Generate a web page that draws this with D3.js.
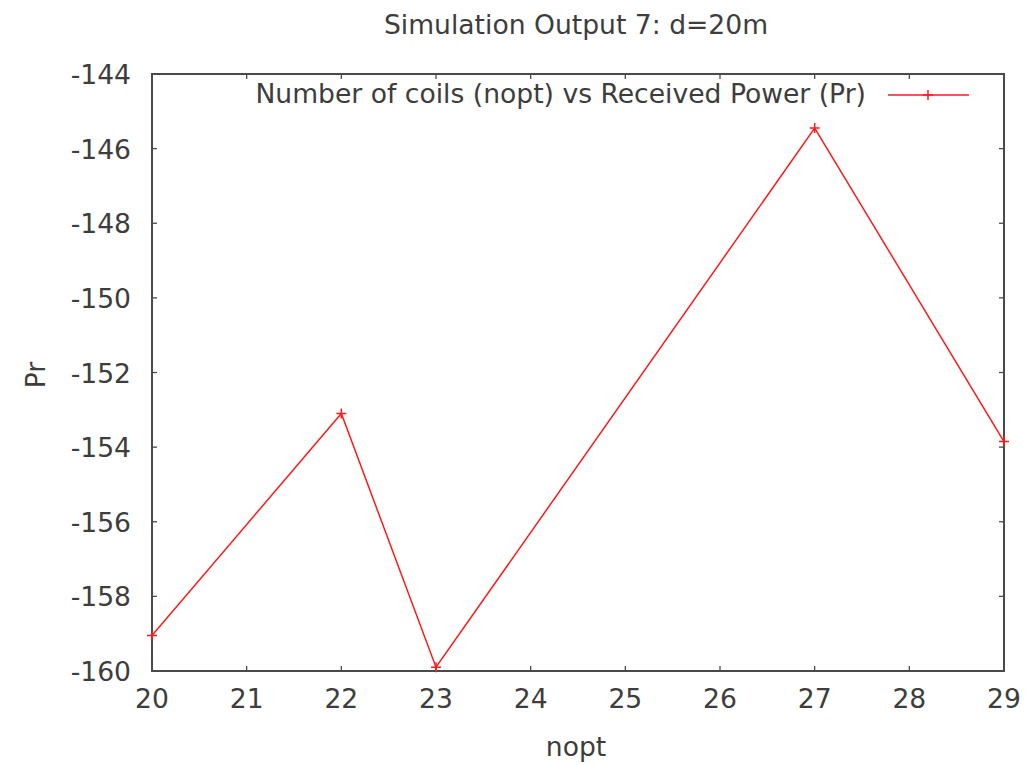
<!DOCTYPE html>
<html>
<head>
<meta charset="utf-8">
<script src="https://cdn.jsdelivr.net/npm/d3@7"></script>
<style>
  html, body { margin: 0; padding: 0; background: #fff; }
  svg text { font-family: "DejaVu Sans", sans-serif; fill: #3d3d3d; }
</style>
</head>
<body>
<svg id="chart" width="1027" height="765"></svg>
<script>
// Number of coils vs received power
const nopt = [20, 22, 23, 27, 29];
const pr = [-159.05, -153.1, -159.9, -145.45, -153.85];
const xTicks = [20, 21, 22, 23, 24, 25, 26, 27, 28, 29];
const yTicks = [-160, -158, -156, -154, -152, -150, -148, -146, -144];
const titleText = "Simulation Output 7: d=20m";
const legendText = "Number of coils (nopt) vs Received Power (Pr)";

const svg = d3.select("#chart");
const m = { left: 152, right: 1004, top: 74, bottom: 671 };
const axisColor = "#4a4a4a";
const fontSize = 26.6;

const x = d3.scaleLinear().domain([20, 29]).range([m.left, m.right]);
const y = d3.scaleLinear().domain([-160, -144]).range([m.bottom, m.top]);

// inward ticks on all four sides
const tickLen = 5;
const g = svg.append("g");
xTicks.forEach(t => {
  g.append("line").attr("x1", x(t)).attr("x2", x(t)).attr("y1", m.bottom).attr("y2", m.bottom - tickLen)
    .attr("stroke", axisColor).attr("stroke-width", 1.3);
  g.append("line").attr("x1", x(t)).attr("x2", x(t)).attr("y1", m.top).attr("y2", m.top + tickLen)
    .attr("stroke", axisColor).attr("stroke-width", 1.3);
  g.append("text").attr("x", x(t)).attr("y", m.bottom + 37).attr("text-anchor", "middle")
    .attr("font-size", fontSize).text(t);
});
yTicks.forEach(t => {
  g.append("line").attr("x1", m.left).attr("x2", m.left + tickLen).attr("y1", y(t)).attr("y2", y(t))
    .attr("stroke", axisColor).attr("stroke-width", 1.3);
  g.append("line").attr("x1", m.right).attr("x2", m.right - tickLen).attr("y1", y(t)).attr("y2", y(t))
    .attr("stroke", axisColor).attr("stroke-width", 1.3);
  g.append("text").attr("x", m.left - 21).attr("y", y(t) + 10).attr("text-anchor", "end")
    .attr("font-size", fontSize).text(t);
});

// frame
svg.append("rect").attr("x", m.left).attr("y", m.top)
  .attr("width", m.right - m.left).attr("height", m.bottom - m.top)
  .attr("fill", "none").attr("stroke", axisColor).attr("stroke-width", 2);

// data line
const line = d3.line().x((d, i) => x(nopt[i])).y(d => y(d));
svg.append("path").datum(pr).attr("d", line)
  .attr("fill", "none").attr("stroke", "#ff1a1a").attr("stroke-width", 1.5);

// plus markers
const ms = 5;
svg.append("g").selectAll("path").data(pr).join("path")
  .attr("d", (d, i) => {
    const cx = x(nopt[i]), cy = y(d);
    return `M${cx - ms},${cy}H${cx + ms}M${cx},${cy - ms}V${cy + ms}`;
  })
  .attr("stroke", "#ff1a1a").attr("stroke-width", 1.5);

// title and axis labels
svg.append("text").attr("x", 576).attr("y", 34).attr("text-anchor", "middle")
  .attr("font-size", fontSize).text(titleText);
svg.append("text").attr("x", 576).attr("y", 756).attr("text-anchor", "middle")
  .attr("font-size", fontSize).text("nopt");
svg.append("text").attr("transform", "translate(45,375) rotate(-90)").attr("text-anchor", "middle")
  .attr("font-size", fontSize).text("Pr");

// legend
const ly = 95;
svg.append("text").attr("x", 866).attr("y", ly + 8).attr("text-anchor", "end")
  .attr("font-size", fontSize).text(legendText);
svg.append("line").attr("x1", 888).attr("x2", 969).attr("y1", ly).attr("y2", ly)
  .attr("stroke", "#ff1a1a").attr("stroke-width", 1.5);
svg.append("path").attr("d", `M${928 - ms},${ly}H${928 + ms}M928,${ly - ms}V${ly + ms}`)
  .attr("stroke", "#ff1a1a").attr("stroke-width", 1.5);
</script>
</body>
</html>
